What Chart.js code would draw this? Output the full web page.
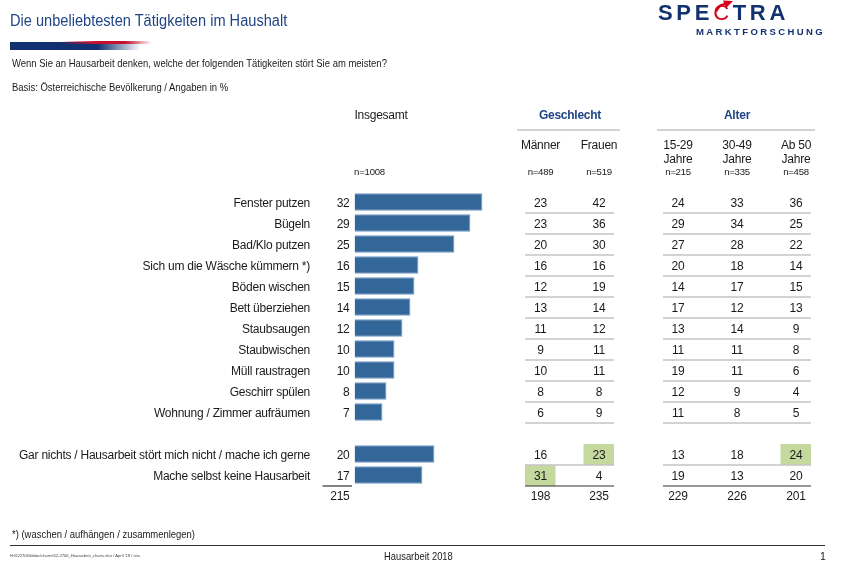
<!DOCTYPE html>
<html>
<head>
<meta charset="utf-8">
<script src="https://cdn.jsdelivr.net/npm/chart.js@4"></script>
<style>
  html, body { margin: 0; padding: 0; background: #fff; }
  body { width: 844px; height: 564px; position: relative; overflow: hidden; font-family: "Liberation Sans", Arial, sans-serif; color: #1a1a1a; }
  canvas { position: absolute; left: 0; top: 0; }
  .txt { position: absolute; white-space: nowrap; transform-origin: left center; }
  #title { left: 10px; top: 12px; font-size: 15.6px; transform: scaleX(0.936); color: #1f4484; }
  #band { position: absolute; left: 10px; top: 41px; width: 142px; height: 9px; }
  #band .blue { position: absolute; left: 0; top: 1px; width: 100%; height: 8px; background: linear-gradient(90deg, #12326f 0, #12326f 62%, #ffffff 92%); }
  #band .red { position: absolute; left: 50px; top: 0; width: 92px; height: 3px; background: linear-gradient(90deg, rgba(200,16,46,0) 0, #c8102e 40%, #c8102e 70%, rgba(200,16,46,0) 100%); }
  #question { left: 12px; top: 57px; font-size: 10.6px; transform: scaleX(0.895); }
  #basis { left: 12px; top: 81px; font-size: 10.6px; transform: scaleX(0.895); }
  #logo { left: 658px; top: 0; font-size: 22px; font-weight: bold; color: #12326f; letter-spacing: 3.7px; }
  #logo b { color: #d8001a; font-weight: normal; }
  #arrow { position: absolute; left: 712px; top: 0; }
  #sub { left: 696px; top: 26px; font-size: 9.5px; font-weight: bold; color: #12326f; letter-spacing: 2.4px; }
  #note { left: 12px; top: 528px; font-size: 10.6px; transform: scaleX(0.893); }
  #rule { position: absolute; left: 10px; top: 545px; width: 815px; height: 1px; background: #333; }
  #path { left: 10px; top: 553px; font-size: 4.1px; color: #444; }
  #foot { left: 384px; top: 550px; font-size: 10.6px; transform: scaleX(0.885); }
  #page { left: 820px; top: 550px; font-size: 10.6px; }
</style>
</head>
<body>
<canvas id="chart" width="844" height="564"></canvas>
<div class="txt" id="title">Die unbeliebtesten Tätigkeiten im Haushalt</div>
<div id="band"><div class="blue"></div><div class="red"></div></div>
<div class="txt" id="question">Wenn Sie an Hausarbeit denken, welche der folgenden Tätigkeiten stört Sie am meisten?</div>
<div class="txt" id="basis">Basis: Österreichische Bevölkerung / Angaben in %</div>
<div class="txt" id="logo">SPE<b>C</b>TRA</div>
<svg id="arrow" width="24" height="12" viewBox="0 0 24 12"><path d="M3 11 Q5 4 12 3 L11 0.5 L21 1 L14 8 L13 5 Q8 6 5 12 Z" fill="#d8001a"/></svg>
<div class="txt" id="sub">MARKTFORSCHUNG</div>
<div class="txt" id="note">*) (waschen / aufhängen / zusammenlegen)</div>
<div id="rule"></div>
<div class="txt" id="path">H:\622706\fddoc\charts\62-2706_Hausarbeit_charts.xlsx / April '18 / sita</div>
<div class="txt" id="foot">Hausarbeit 2018</div>
<div class="txt" id="page">1</div>
<script>
// rows, the empty one is the gap above "Gar nichts"
const categories = ["Fenster putzen", "Bügeln", "Bad/Klo putzen", "Sich um die Wäsche kümmern *)", "Böden wischen", "Bett überziehen", "Staubsaugen", "Staubwischen", "Müll raustragen", "Geschirr spülen", "Wohnung / Zimmer aufräumen", "", "Gar nichts / Hausarbeit stört mich nicht / mache ich gerne", "Mache selbst keine Hausarbeit"];
const insgesamt = [32, 29, 25, 16, 15, 14, 12, 10, 10, 8, 7, null, 20, 17];
const maenner = [23, 23, 20, 16, 12, 13, 11, 9, 10, 8, 6, null, 16, 31];
const frauen = [42, 36, 30, 16, 19, 14, 12, 11, 11, 8, 9, null, 23, 4];
const jahre1529 = [24, 29, 27, 20, 14, 17, 13, 11, 19, 12, 11, null, 13, 19];
const jahre3049 = [33, 34, 28, 18, 17, 12, 14, 11, 11, 9, 8, null, 18, 13];
const ab50 = [36, 25, 22, 14, 15, 13, 9, 8, 6, 4, 5, null, 24, 20];
const totals = [215, 198, 235, 229, 226, 201];
const bases = ["n=1008", "n=489", "n=519", "n=215", "n=335", "n=458"];

const COL_X = [540.5, 599, 678, 737, 796];
const columns = [maenner, frauen, jahre1529, jahre3049, ab50];
const highlights = [[1, 12], [0, 13], [4, 12]]; // column, row
const FONT = '"Liberation Sans", Arial, sans-serif';
const TEXT_SHIFT = 1.5; // row text sits below the bars' centre

function text(ctx, str, x, y, size, align, color, weight) {
  ctx.font = (weight || "normal") + " " + size + "px " + FONT;
  ctx.fillStyle = color || "#1a1a1a";
  ctx.textAlign = align;
  ctx.textBaseline = "middle";
  ctx.fillText(str, x, y);
}

function hline(ctx, x1, x2, y, color, width) {
  ctx.strokeStyle = color;
  ctx.lineWidth = width;
  ctx.beginPath();
  ctx.moveTo(x1, y);
  ctx.lineTo(x2, y);
  ctx.stroke();
}

const tablePlugin = {
  id: "table",
  afterLayout(chart) {
    chart.scales.y.getLabelItems().forEach((item) => {
      item.options.translation[1] += TEXT_SHIFT;
    });
  },
  beforeDraw(chart) {
    // the reference text is squeezed sideways, tighten it to the same widths
    chart.ctx.letterSpacing = "-0.25px";
  },
  beforeDatasetsDraw(chart) {
    const ctx = chart.ctx;
    const yScale = chart.scales.y;
    const step = yScale.getPixelForValue(1) - yScale.getPixelForValue(0);
    highlights.forEach(([c, r]) => {
      const y = yScale.getPixelForValue(r) + 0.5;
      ctx.fillStyle = "#c5d89d";
      ctx.fillRect(COL_X[c] - 15.5, y - step / 2, 30.5, step);
    });
  },
  afterDatasetsDraw(chart) {
    const ctx = chart.ctx;
    const yScale = chart.scales.y;
    const step = yScale.getPixelForValue(1) - yScale.getPixelForValue(0);
    ctx.save();

    // group headers
    text(ctx, "Insgesamt", 381, 116, 12, "center");
    text(ctx, "Geschlecht", 570, 116, 12, "center", "#1f4484", "bold");
    text(ctx, "Alter", 737, 116, 12, "center", "#1f4484", "bold");
    hline(ctx, 517, 620, 130, "#c4c4c4", 1.3);
    hline(ctx, 657, 815, 130, "#c4c4c4", 1.3);
    [["Männer"], ["Frauen"], ["15-29", "Jahre"], ["30-49", "Jahre"], ["Ab 50", "Jahre"]].forEach((lines, i) => {
      lines.forEach((l, j) => text(ctx, l, COL_X[i], 146 + j * 14, 12, "center"));
    });
    text(ctx, bases[0], 369.5, 172.5, 9.6, "center");
    bases.slice(1).forEach((b, i) => text(ctx, b, COL_X[i], 172.5, 9.6, "center"));

    // row rules
    categories.forEach((c, r) => {
      if (c === "" || r === categories.length - 1) return;
      const y = yScale.getPixelForValue(r) + step / 2 + 0.5;
      hline(ctx, 525, 614, y, "#c4c4c4", 1.3);
      hline(ctx, 663, 811, y, "#c4c4c4", 1.3);
    });
    const bottom = yScale.getPixelForValue(categories.length - 1) + step / 2 + 0.5;
    hline(ctx, 322.5, 352, bottom, "#333", 1.2);
    hline(ctx, 525, 614, bottom, "#333", 1.2);
    hline(ctx, 663, 811, bottom, "#333", 1.2);

    // values
    categories.forEach((c, r) => {
      if (insgesamt[r] === null) return;
      const y = yScale.getPixelForValue(r) + TEXT_SHIFT;
      text(ctx, String(insgesamt[r]), 349.5, y, 12, "right");
      columns.forEach((col, i) => text(ctx, String(col[r]), COL_X[i], y, 12, "center"));
    });
    const totalY = bottom + step / 2 + 0.5;
    text(ctx, String(totals[0]), 349.5, totalY, 12, "right");
    totals.slice(1).forEach((t, i) => text(ctx, String(t), COL_X[i], totalY, 12, "center"));
    ctx.restore();
  },
};

new Chart(document.getElementById("chart"), {
  type: "bar",
  data: {
    labels: categories,
    datasets: [{
      data: insgesamt,
      backgroundColor: "#336699",
      borderColor: "#6f9bc8",
      borderWidth: 1,
      categoryPercentage: 1,
      barPercentage: 0.84,
    }],
  },
  options: {
    indexAxis: "y",
    responsive: false,
    animation: false,
    layout: { padding: { top: 191.5, bottom: 78.5, left: 0, right: 10 } },
    plugins: { legend: { display: false }, tooltip: { enabled: false } },
    scales: {
      x: { display: false, min: 0, max: 120, grid: { display: false } },
      y: {
        afterFit(scale) { scale.width = 354.5; },
        border: { display: false },
        grid: { display: false, drawTicks: false },
        ticks: {
          autoSkip: false,
          color: "#1a1a1a",
          padding: 44.5,
          font: { family: FONT, size: 12 },
        },
      },
    },
  },
  plugins: [tablePlugin],
});
</script>
</body>
</html>
